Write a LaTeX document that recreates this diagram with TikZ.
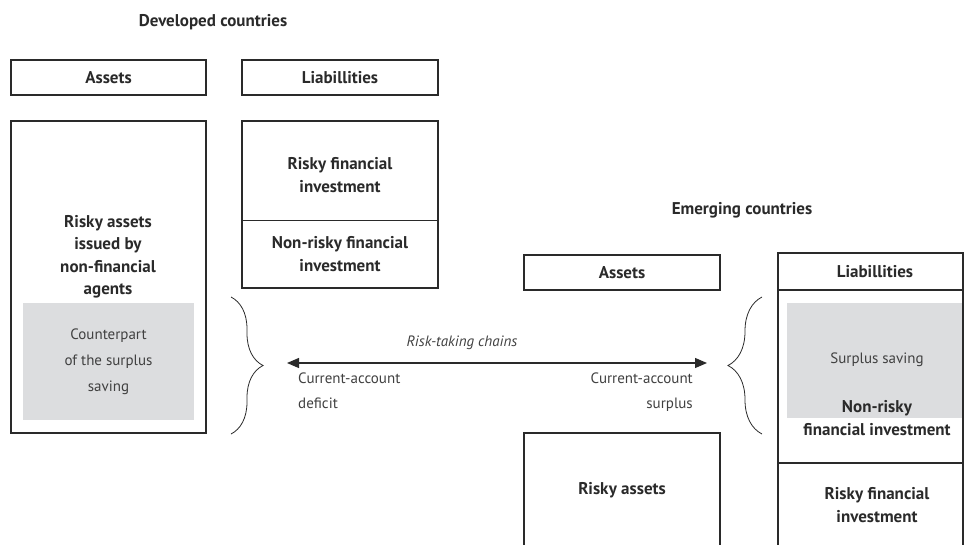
\documentclass[tikz,border=0pt]{standalone}
\usepackage{fontspec}
\setmainfont{PT Sans}
\usetikzlibrary{arrows.meta,decorations.pathreplacing,fit}
\definecolor{greyfill}{HTML}{DCDDDF}
\definecolor{linec}{HTML}{2A2A2A}
\definecolor{lighttext}{HTML}{404040}
\begin{document}
\begin{tikzpicture}[x=1pt,y=-1pt,
  box/.style={draw=linec, line width=1.3pt, inner sep=0pt, outer sep=0pt},
  greybox/.style={fill=greyfill, draw=none, inner sep=0pt, outer sep=0pt},
  divider/.style={draw=linec, line width=1pt},
  boldtxt/.style={font=\fontsize{17}{22.5}\selectfont\bfseries, align=center, text=linec, inner sep=0pt},
  lighttxt/.style={font=\fontsize{15}{26}\selectfont, align=center, text=lighttext, inner sep=0pt},
  bracestyle/.style={draw=linec, line width=0.8pt, decorate},
  arrowstyle/.style={draw=linec, line width=1.2pt, {Triangle[length=12pt,width=10pt]}-{Triangle[length=12pt,width=10pt]}}
]
\useasboundingbox (0,0) rectangle (965,544);
\clip (0,0) rectangle (965,544);

% ---------- Developed countries ----------
\node[boldtxt] (devtitle) at (213,22) {Developed countries};

\node[box, fit={(11,60)(206,95)}] (devA) {};
\node[boldtxt] (devAtxt) at (devA.center) {Assets};
\node[box, fit={(242,60)(438,95)}] (devL) {};
\node[boldtxt] (devLtxt) at (devL.center) {Liabillities};

\node[greybox, fit={(23,303)(194,420)}] (devgrey) {};
\node[box, fit={(11,121)(206,433)}] (devAbig) {};
\node[boldtxt] (devAbigtxt) at (108,257) {Risky assets\\issued by\\non-financial\\agents};
\node[lighttxt] (devgreytxt) at (devgrey.center) {Counterpart\\of the surplus\\saving};

\node[box, fit={(242,121)(438,288)}] (devLbig) {};
\draw[divider] (devLbig.west |- 0,220) coordinate (devdivL) -- (devLbig.east |- 0,220) coordinate (devdivR);
\node[boldtxt] (devLrisky) at (340,175) {Risky financial\\investment};
\node[boldtxt] (devLnonrisky) at (340,254) {Non-risky financial\\investment};

% ---------- braces and arrow ----------
\coordinate (lbtop) at (231,297);
\coordinate (lbbot) at (231,434);
\draw[bracestyle, decoration={brace, amplitude=32pt}] (lbtop) -- (lbbot);
\coordinate (rbtop) at (762,297);
\coordinate (rbbot) at (762,434);
\draw[bracestyle, decoration={brace, amplitude=34pt}] (rbbot) -- (rbtop);

\coordinate (arrL) at (287,363);
\coordinate (arrR) at (707,363);
\draw[arrowstyle] (arrL) -- (arrR);
\node[lighttxt, font=\fontsize{15}{26}\selectfont\itshape] (risklbl) at (462,343) {Risk-taking chains};
\node[lighttxt, font=\fontsize{15}{25}\selectfont, align=left, anchor=north west] (deficit) at (298,373) {Current-account\\deficit};
\node[lighttxt, font=\fontsize{15}{25}\selectfont, align=right, anchor=north east] (surplus) at (693,373) {Current-account\\surplus};

% ---------- Emerging countries ----------
\node[boldtxt] (emtitle) at (742,210) {Emerging countries};
\node[box, fit={(524,255)(720,290)}] (emA) {};
\node[boldtxt] (emAtxt) at (emA.center) {Assets};

\node[greybox, fit={(787,303)(962,418)}] (emgrey) {};
\node[box, fit={(778,253)(963,600)}] (emL) {};
\draw[divider, line width=1.3pt] (emL.west |- 0,290) coordinate (emhdL) -- (emL.east |- 0,290) coordinate (emhdR);
\draw[divider, line width=1.3pt] (emL.west |- 0,463) coordinate (emdvL) -- (emL.east |- 0,463) coordinate (emdvR);
\node[boldtxt] (emLtxt) at (875,272) {Liabillities};
\node[lighttxt] (emgreytxt) at (877,360) {Surplus saving};
\node[boldtxt] (emnonrisky) at (877,418) {Non-risky\\financial investment};
\node[boldtxt] (emrisky) at (877,505) {Risky financial\\investment};

\node[box, fit={(524,433)(720,600)}] (emAbig) {};
\node[boldtxt] (emAbigtxt) at (622,490) {Risky assets};
\end{tikzpicture}
\end{document}
